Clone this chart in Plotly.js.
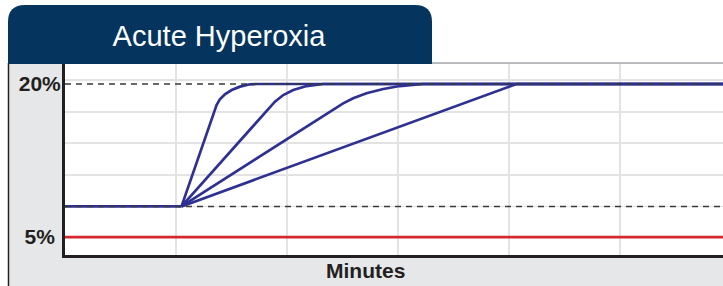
<!DOCTYPE html>
<html>
<head>
<meta charset="utf-8">
<script src="https://cdn.plot.ly/plotly-3.0.1.min.js"></script>
<style>
html,body{margin:0;padding:0;background:#fff;}
#chart{width:723px;height:286px;}
</style>
</head>
<body>
<div id="chart"></div>
<script>
// ---- data (minutes on x, O2 % on y) ----
const xEnd = 5.93;
const baselineX = [0, 1.05];
const baselineY = [8, 8];
const curve1X = [1.05, 1.366, 1.396, 1.441, 1.502, 1.577, 1.667, 1.727, xEnd];
const curve1Y = [8, 17.94, 18.5, 18.99, 19.41, 19.74, 19.97, 20, 20];
const curve2X = [1.05, 1.832, 1.892, 1.967, 2.057, 2.177, 2.327, xEnd];
const curve2Y = [8, 17.52, 18.27, 18.92, 19.41, 19.8, 20, 20];
const curve3X = [1.05, 2.417, 2.507, 2.597, 2.717, 2.868, 3.018, 3.228, xEnd];
const curve3Y = [8, 17.45, 18.1, 18.6, 19.09, 19.51, 19.8, 20, 20];
const curve4X = [1.05, 4.069, xEnd];
const curve4Y = [8, 20, 20];
const refHighX = [0, xEnd], refHighY = [20, 20];
const refLowX = [0, xEnd], refLowY = [8, 8];
const redX = [0, xEnd], redY = [5, 5];
const yTickVals = [5, 20];
const yTickText = ['5%\u00a0', '20%'];
const yGridVals = [8, 11.1, 14.2, 17.25, 20.4];

const BLUE = '#2e3192', RED = '#d7262e', INK = '#231f20', NAVY = '#05355f';
const FONT = '"Liberation Sans", Arial, Helvetica, sans-serif';

function blue(x, y, name) {
  return {x: x, y: y, name: name, type: 'scatter', mode: 'lines',
          line: {color: BLUE, width: 2.7}, hoverinfo: 'skip'};
}
const traces = [
  {x: redX, y: redY, type: 'scatter', mode: 'lines', line: {color: RED, width: 2.7}, hoverinfo: 'skip'},
  blue(baselineX, baselineY, 'baseline'),
  blue(curve1X, curve1Y, 'c1'),
  blue(curve2X, curve2Y, 'c2'),
  blue(curve3X, curve3Y, 'c3'),
  blue(curve4X, curve4Y, 'c4'),
  {x: refHighX, y: refHighY, type: 'scatter', mode: 'lines', line: {color: '#3a3a3a', width: 1.5, dash: '6px,5px'}, hoverinfo: 'skip'},
  {x: refLowX, y: refLowY, type: 'scatter', mode: 'lines', line: {color: '#3a3a3a', width: 1.5, dash: '6px,5px'}, hoverinfo: 'skip'}
];

// pixel -> paper helpers for decoration
const L = 65, R = 0, T = 64, B = 31, W = 723, H = 286;
const pw = W - L - R, ph = H - T - B;
const px = v => (v - L) / pw;
const py = v => (H - B - v) / ph;

const tx0 = px(8), tx1 = px(432), ty0 = py(64), ty1 = py(5);
const rx = 17 / pw, ry = 17 / ph;
const tabPath = `M ${tx0},${ty0} L ${tx0},${ty1 - ry} Q ${tx0},${ty1} ${tx0 + rx},${ty1} ` +
  `L ${tx1 - rx},${ty1} Q ${tx1},${ty1} ${tx1},${ty1 - ry} L ${tx1},${ty0} Z`;

const layout = {
  width: W, height: H,
  margin: {l: L, r: R, t: T, b: B, pad: 0},
  paper_bgcolor: '#ffffff', plot_bgcolor: '#ffffff',
  showlegend: false,
  font: {family: FONT, color: INK},
  title: {text: 'Acute Hyperoxia', font: {family: FONT, size: 29, color: '#ffffff'},
          x: 219 / W, xanchor: 'center', xref: 'container',
          y: 1 - 36 / H, yanchor: 'middle', yref: 'container'},
  xaxis: {range: [0, xEnd], dtick: 1, tick0: 0, showticklabels: false, ticks: '',
          showgrid: true, gridcolor: '#e3e3e3', gridwidth: 1.5, zeroline: false,
          showline: true, linecolor: INK, linewidth: 3, fixedrange: true},
  yaxis: {range: [3.24, 21.96], tickmode: 'array', tickvals: yTickVals, ticktext: yTickText,
          ticks: '', ticklabelstandoff: -3,
          tickfont: {family: FONT, size: 21, color: INK, weight: 'bold'},
          showgrid: false, zeroline: false,
          minor: {tickmode: 'array', tickvals: yGridVals, showgrid: true, gridcolor: '#e3e3e3', gridwidth: 1.5, ticks: ''},
          showline: true, linecolor: INK, linewidth: 3, fixedrange: true},
  shapes: [
    {type: 'rect', xref: 'paper', yref: 'paper', x0: px(8), x1: px(724), y0: py(287), y1: py(63),
     fillcolor: '#e6e7e8', line: {width: 0}, layer: 'below'},
    {type: 'rect', xref: 'paper', yref: 'paper', x0: 0, x1: 1, y0: 0, y1: 1,
     fillcolor: '#ffffff', line: {width: 0}, layer: 'below'},
    {type: 'line', xref: 'paper', yref: 'paper', x0: px(432), x1: px(724), y0: py(63), y1: py(63),
     line: {color: '#a7a9ac', width: 1.5}},
    {type: 'line', xref: 'paper', yref: 'paper', x0: px(8.5), x1: px(8.5), y0: py(63), y1: py(287),
     line: {color: INK, width: 1.5}},
    {type: 'path', xref: 'paper', yref: 'paper', path: tabPath, fillcolor: NAVY, line: {width: 0}, layer: 'above'}
  ],
  annotations: [
    {text: '<b>Minutes</b>', xref: 'paper', yref: 'paper', x: px(365), y: py(270),
     xanchor: 'center', yanchor: 'middle', showarrow: false,
     font: {family: FONT, size: 21, color: INK}}
  ]
};

Plotly.newPlot('chart', traces, layout, {displayModeBar: false, staticPlot: true});
</script>
</body>
</html>
